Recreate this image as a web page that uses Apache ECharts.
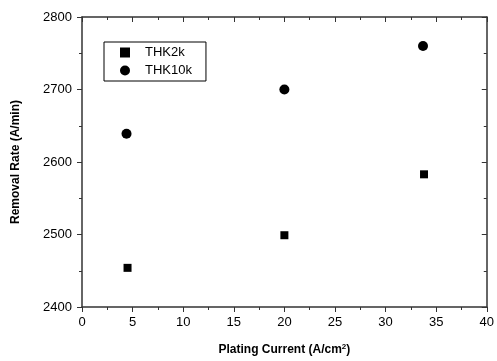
<!DOCTYPE html>
<html><head><meta charset="utf-8">
<script src="https://cdn.jsdelivr.net/npm/echarts@6/dist/echarts.min.js"></script>
<style>html,body{margin:0;padding:0;background:#fff}#c{width:497px;height:361px}</style>
</head><body><div id="c"></div>
<script>
var seriesNames = ['THK2k', 'THK10k'];
var thk2kX = [4.5, 20.0, 33.8];
var thk2kY = [2454, 2499, 2583];
var thk10kX = [4.4, 20.0, 33.7];
var thk10kY = [2639, 2700, 2760];

function pairs(xs, ys) { return xs.map(function (x, i) { return [x, ys[i]]; }); }

var font = 'Liberation Sans, Arial, sans-serif';
var axisColor = '#333';
var chart = echarts.init(document.getElementById('c'));
var baseX = {
  type: 'value', min: 0, max: 40, interval: 5,
  axisLine: { show: true, onZero: false, lineStyle: { color: axisColor, width: 1.5 } },
  splitLine: { show: false },
  minorTick: { show: true, splitNumber: 2, length: 3, lineStyle: { color: axisColor } },
  axisTick: { show: true, length: 5, lineStyle: { color: axisColor } }
};
var baseY = {
  type: 'value', min: 2400, max: 2800, interval: 100,
  axisLine: { show: true, onZero: false, lineStyle: { color: axisColor, width: 1.5 } },
  splitLine: { show: false },
  minorTick: { show: true, splitNumber: 2, length: 3, lineStyle: { color: axisColor } },
  axisTick: { show: true, length: 5, lineStyle: { color: axisColor } }
};
chart.setOption({
  animation: false,
  grid: { left: 82, right: 7, top: 17, bottom: 52 },
  legend: {
    orient: 'vertical', left: 104, top: 42,
    data: [{ name: 'THK2k', icon: 'rect' }, { name: 'THK10k', icon: 'circle' }],
    itemWidth: 10, itemHeight: 10, itemGap: 5,
    padding: [4, 14, 4, 16],
    borderColor: '#000', borderWidth: 1,
    textStyle: { fontFamily: font, fontSize: 13, color: '#000', padding: [0, 0, 0, 10] }
  },
  xAxis: [
    Object.assign({}, baseX, {
      position: 'bottom',
      name: 'Plating Current (A/cm{sup|2})', nameLocation: 'middle', nameGap: 36,
      nameTextStyle: { fontFamily: font, fontSize: 12, fontWeight: 'bold', color: '#000',
        rich: { sup: { fontFamily: font, fontSize: 8, fontWeight: 'bold', color: '#000', verticalAlign: 'top', padding: [0, 0, 6, 0] } } },
      axisTick: { show: true, inside: false, length: 5, lineStyle: { color: axisColor } },
      minorTick: { show: true, splitNumber: 2, length: 3, lineStyle: { color: axisColor } },
      axisLabel: { fontFamily: font, fontSize: 13, color: '#000', margin: 9 }
    }),
    Object.assign({}, baseX, {
      position: 'top',
      axisTick: { show: true, inside: true, length: 5, lineStyle: { color: axisColor } },
      minorTick: { show: true, splitNumber: 2, length: 3, lineStyle: { color: axisColor } },
      axisLabel: { show: false }
    })
  ],
  yAxis: [
    Object.assign({}, baseY, {
      position: 'left',
      name: 'Removal Rate (A/min)', nameLocation: 'middle', nameGap: 60, nameRotate: 90,
      nameTextStyle: { fontFamily: font, fontSize: 12, fontWeight: 'bold', color: '#000' },
      axisTick: { show: true, inside: false, length: 5, lineStyle: { color: axisColor } },
      axisLabel: { fontFamily: font, fontSize: 13, color: '#000', margin: 10,
        formatter: function (v) { return String(v); } }
    }),
    Object.assign({}, baseY, {
      position: 'right',
      axisTick: { show: true, inside: true, length: 5, lineStyle: { color: axisColor } },
      minorTick: { show: true, splitNumber: 2, length: 3, lineStyle: { color: axisColor } },
      axisLabel: { show: false }
    })
  ],
  series: [
    { name: seriesNames[0], type: 'scatter', symbol: 'rect', symbolSize: 8,
      itemStyle: { color: '#000', opacity: 1 }, data: pairs(thk2kX, thk2kY) },
    { name: seriesNames[1], type: 'scatter', symbol: 'circle', symbolSize: 10,
      itemStyle: { color: '#000', opacity: 1 }, data: pairs(thk10kX, thk10kY) }
  ]
});
</script></body></html>
